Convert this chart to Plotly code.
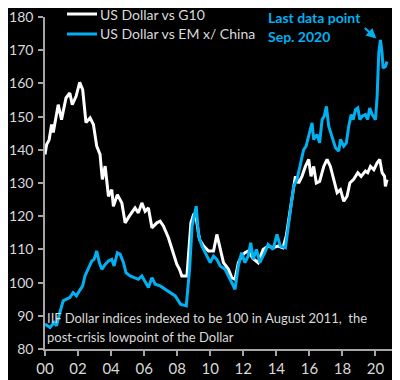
import plotly.graph_objects as go

g10_years = [2000.0, 2000.1, 2000.25, 2000.4, 2000.5, 2000.67, 2000.8, 2001.0, 2001.27, 2001.5,
             2001.65, 2001.88, 2002.1, 2002.28, 2002.48, 2002.73, 2002.93, 2003.13, 2003.33, 2003.47,
             2003.64, 2003.84, 2004.04, 2004.14, 2004.38, 2004.65, 2004.85, 2005.1, 2005.45, 2005.65,
             2005.86, 2006.06, 2006.26, 2006.47, 2006.77, 2006.97, 2007.17, 2007.47, 2007.78, 2007.98,
             2008.14, 2008.28, 2008.59, 2008.83, 2008.99, 2009.1, 2009.35, 2009.6, 2009.9, 2010.2,
             2010.4, 2010.6, 2010.8, 2011.1, 2011.3, 2011.5, 2011.7, 2011.9, 2012.1, 2012.3,
             2012.6, 2012.9, 2013.2, 2013.5, 2013.8, 2014.1, 2014.4, 2014.6, 2014.95, 2015.15,
             2015.35, 2015.55, 2015.76, 2015.96, 2016.1, 2016.26, 2016.42, 2016.62, 2016.87, 2017.07,
             2017.27, 2017.47, 2017.68, 2017.88, 2018.08, 2018.28, 2018.45, 2018.68, 2018.93, 2019.13,
             2019.39, 2019.53, 2019.7, 2019.9, 2020.1, 2020.26, 2020.4, 2020.55, 2020.6, 2020.7]
g10_values = [138.6, 141.6, 143.0, 147.6, 145.2, 150.1, 153.6, 149.1, 155.6, 157.1,
              153.6, 156.1, 160.3, 158.1, 148.2, 149.6, 147.6, 141.1, 138.6, 131.1,
              135.1, 126.0, 128.0, 123.0, 126.5, 124.0, 118.0, 120.0, 122.5, 121.0,
              124.0, 121.5, 122.5, 116.5, 118.0, 118.5, 117.0, 113.5, 109.0, 105.5,
              104.0, 102.0, 102.0, 118.0, 120.5, 121.0, 113.0, 111.0, 109.5, 109.5,
              114.5, 110.0, 106.0, 104.0, 101.5, 101.0, 106.0, 108.0, 109.0, 109.5,
              107.2, 106.0, 110.0, 111.0, 110.5, 111.0, 110.5, 114.0, 125.0, 132.0,
              130.0, 132.0, 135.0, 137.1, 132.0, 135.0, 130.0, 130.5, 135.0, 137.1,
              135.0, 131.1, 127.1, 128.0, 124.5, 126.0, 130.0, 131.1, 133.1, 132.0,
              133.6, 133.1, 135.0, 134.0, 136.1, 137.1, 133.1, 132.0, 129.0, 131.0]

em_years = [2000.0, 2000.3, 2000.55, 2000.7, 2000.9, 2001.1, 2001.3, 2001.5, 2001.7, 2001.9,
            2002.08, 2002.28, 2002.42, 2002.62, 2002.83, 2002.97, 2003.13, 2003.29, 2003.44, 2003.64,
            2003.84, 2004.04, 2004.18, 2004.38, 2004.55, 2004.75, 2004.9, 2005.15, 2005.45, 2005.65,
            2005.86, 2006.06, 2006.26, 2006.47, 2006.67, 2006.97, 2007.27, 2007.58, 2007.88, 2008.2,
            2008.55, 2008.75, 2008.9, 2009.15, 2009.3, 2009.5, 2009.8, 2010.0, 2010.2, 2010.4,
            2010.6, 2010.9, 2011.2, 2011.4, 2011.5, 2011.7, 2011.9, 2012.1, 2012.3, 2012.45,
            2012.6, 2012.8, 2013.0, 2013.3, 2013.5, 2013.8, 2014.04, 2014.24, 2014.55, 2014.75,
            2015.05, 2015.25, 2015.65, 2015.8, 2015.96, 2016.16, 2016.26, 2016.46, 2016.62, 2016.77,
            2016.9, 2017.03, 2017.17, 2017.38, 2017.58, 2017.78, 2017.88, 2018.08, 2018.24, 2018.38,
            2018.53, 2018.65, 2018.79, 2018.93, 2019.05, 2019.19, 2019.39, 2019.53, 2019.65, 2019.8,
            2020.0, 2020.1, 2020.2, 2020.3, 2020.4, 2020.46, 2020.6, 2020.7]
em_values = [87.5, 86.5, 88.0, 87.0, 91.0, 94.5, 95.0, 95.5, 97.0, 96.0,
             97.5, 99.0, 102.0, 104.0, 106.5, 107.0, 109.5, 106.0, 104.0, 105.5,
             106.5, 107.0, 105.0, 109.0, 108.5, 106.0, 103.0, 102.0, 101.5, 101.0,
             102.0, 100.0, 98.5, 101.5, 99.5, 99.0, 98.0, 97.0, 96.0, 93.5,
             93.0, 104.0, 117.0, 123.0, 114.0, 111.0, 108.0, 106.0, 108.0, 107.0,
             105.0, 104.0, 101.0, 99.0, 98.0, 105.0, 109.0, 106.0, 108.0, 112.0,
             107.0, 110.0, 106.0, 109.0, 111.5, 110.0, 114.5, 111.0, 110.5, 118.0,
             129.0, 131.0, 140.0, 141.1, 144.1, 148.1, 143.1, 144.6, 142.1, 149.1,
             150.1, 153.1, 147.1, 143.6, 140.6, 139.6, 143.1, 141.1, 142.1, 147.1,
             150.6, 149.1, 152.1, 152.6, 149.1, 150.1, 150.6, 149.1, 152.6, 150.6,
             149.1, 156.1, 169.1, 173.1, 169.1, 164.6, 165.1, 166.6]

tick_years = [2000, 2002, 2004, 2006, 2008, 2010, 2012, 2014, 2016, 2018, 2020]
tick_labels = ["00", "02", "04", "06", "08", "10", "12", "14", "16", "18", "20"]
series_names = ["US Dollar vs G10", "US Dollar vs EM x/ China"]

CYAN = "#00b0f0"
TXT = "#d9d9d9"
AX = "#a6a6a6"
FONT = "Lato, Open Sans, sans-serif"

# The page body has an 8px margin, so the figure is 392x372 and offset by 8px.
# Helpers map reference-image pixels to paper coords of the plot area
# (left 45, right 392, top 17, bottom 349 in the reference image).
def px_x(px):
    return (px - 45) / 347.0

def px_y(py):
    return (349 - py) / 332.0

fig = go.Figure()
fig.add_trace(go.Scatter(x=g10_years, y=g10_values, mode="lines", name=series_names[0],
                         line=dict(color="white", width=3), showlegend=False))
fig.add_trace(go.Scatter(x=em_years, y=em_values, mode="lines", name=series_names[1],
                         line=dict(color=CYAN, width=3), showlegend=False))

# manual legend
for name, col, py in [(series_names[0], "white", 14), (series_names[1], CYAN, 34)]:
    fig.add_shape(type="line", xref="paper", yref="paper", x0=px_x(67), x1=px_x(97),
                  y0=px_y(py), y1=px_y(py), line=dict(color=col, width=3))
    fig.add_annotation(x=px_x(98), y=px_y(py), xref="paper", yref="paper", text=name,
                       showarrow=False, xanchor="left", yanchor="middle",
                       font=dict(color=TXT, size=14, family=FONT))

fig.add_annotation(x=px_x(266), y=px_y(17), xref="paper", yref="paper", text="<b>Last data point</b>",
                   showarrow=False, xanchor="left", yanchor="middle",
                   font=dict(color=CYAN, size=14, family=FONT))
fig.add_annotation(x=px_x(266), y=px_y(36), xref="paper", yref="paper", text="<b>Sep. 2020</b>",
                   showarrow=False, xanchor="left", yanchor="middle",
                   font=dict(color=CYAN, size=14, family=FONT))
fig.add_annotation(x=2020.05, y=173.5, ax=-13, ay=-12, text="", showarrow=True,
                   arrowcolor=CYAN, arrowwidth=2, arrowhead=2, arrowsize=1)

fig.add_annotation(x=px_x(45), y=px_y(318), xref="paper", yref="paper",
                   text="IIF Dollar indices indexed to be 100 in August 2011,  the",
                   showarrow=False, xanchor="left", yanchor="middle",
                   font=dict(color=TXT, size=13, family=FONT))
fig.add_annotation(x=px_x(45), y=px_y(337), xref="paper", yref="paper",
                   text="post-crisis lowpoint of the Dollar",
                   showarrow=False, xanchor="left", yanchor="middle",
                   font=dict(color=TXT, size=13, family=FONT))

fig.update_layout(
    width=392, height=372,
    paper_bgcolor="black", plot_bgcolor="black",
    margin=dict(l=37, r=8, t=9, b=31),
    font=dict(family=FONT, color=TXT, size=14),
    showlegend=False,
    xaxis=dict(range=[2000, 2021], tickvals=tick_years, ticktext=tick_labels, automargin=False,
               showgrid=False, zeroline=False, showline=True, linecolor=AX, linewidth=1.5,
               ticks="outside", ticklen=5, tickcolor=AX, tickwidth=1.5,
               tickfont=dict(size=15, color=TXT), ticklabeloverflow="allow"),
    yaxis=dict(range=[80, 180], dtick=10, automargin=False, showgrid=False, zeroline=False,
               showline=True, linecolor=AX, linewidth=1.5, ticks="outside", ticklen=5,
               tickcolor=AX, tickwidth=1.5, tickfont=dict(size=14, color=TXT),
               ticklabelstandoff=2, ticklabeloverflow="allow"),
)

fig.write_html("out.html")
